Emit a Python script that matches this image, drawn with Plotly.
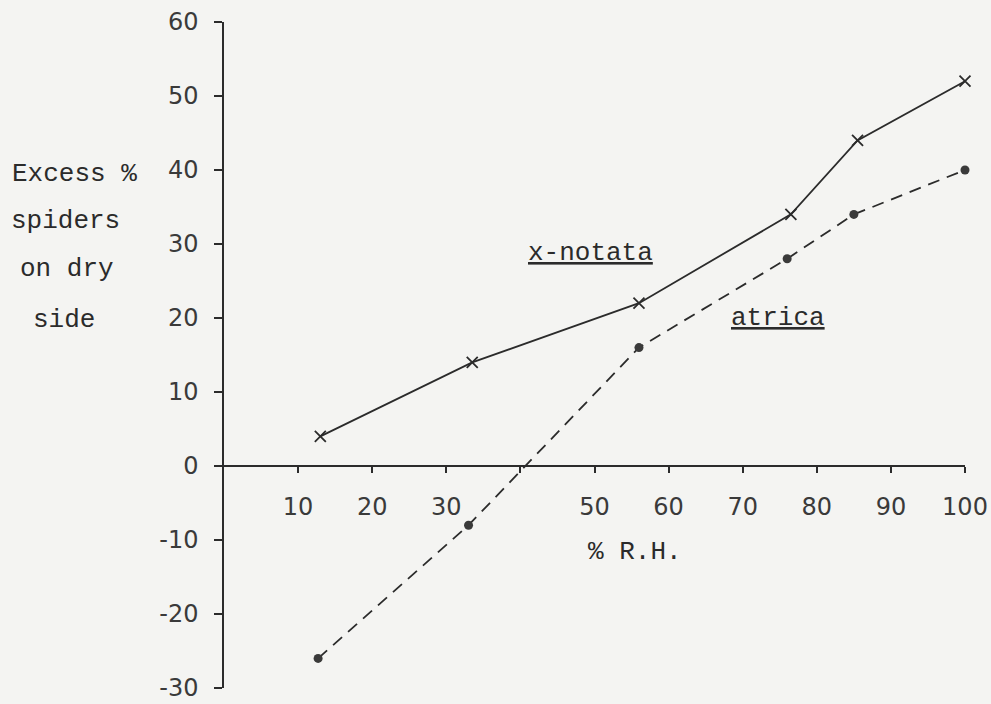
import plotly.graph_objects as go

# ---- data ----
rh_xnotata = [13, 33.5, 56, 76.5, 85.5, 100]
excess_xnotata = [4, 14, 22, 34, 44, 52]

rh_atrica = [12.7, 33, 56, 76, 85, 100]
excess_atrica = [-26, -8, 16, 28, 34, 40]

x_tickvals = [10, 20, 30, 40, 50, 60, 70, 80, 90, 100]
x_ticktext = ["10", "20", "30", "", "50", "60", "70", "80", "90", "100"]
y_tickvals = [-30, -20, -10, 0, 10, 20, 30, 40, 50, 60]
y_ticktext = ["-30", "-20", "-10", "0", "10", "20", "30", "40", "50", "60"]

ylabel_lines = ["Excess %", "spiders", "on dry", "side"]

W, H = 991, 704
L, R, T, B = 224, 26, 22, 16
pw, ph = W - L - R, H - T - B

def px(xp):
    return (xp - L) / pw

def py(yp):
    return (H - B - yp) / ph

ink = "#2b2b2b"
mono = "Liberation Mono, Courier New, monospace"
sans = "DejaVu Sans, sans-serif"

fig = go.Figure()
fig.add_trace(go.Scatter(
    x=rh_xnotata, y=excess_xnotata, mode="lines+markers", name="x-notata",
    line=dict(color=ink, width=1.8),
    marker=dict(symbol="x-thin", size=11, line=dict(color=ink, width=1.8)),
    cliponaxis=False, showlegend=False))
fig.add_trace(go.Scatter(
    x=rh_atrica, y=excess_atrica, mode="lines+markers", name="atrica",
    line=dict(color=ink, width=1.8, dash="12px,8px"),
    marker=dict(symbol="circle", size=9, color="#3a3a3a"),
    cliponaxis=False, showlegend=False))

annotations = []
ylab_pos = [(74, 174), (65, 221), (67, 269), (64, 320)]
for txt, (xx, yy) in zip(ylabel_lines, ylab_pos):
    annotations.append(dict(text=txt, xref="paper", yref="paper", x=px(xx), y=py(yy),
                            xanchor="center", yanchor="middle", showarrow=False,
                            font=dict(family=mono, size=26, color=ink)))
annotations.append(dict(text="<u>x-notata</u>", xref="paper", yref="paper", x=px(590), y=py(253),
                        xanchor="center", yanchor="middle", showarrow=False,
                        font=dict(family=mono, size=26, color=ink)))
annotations.append(dict(text="<u>atrica</u>", xref="paper", yref="paper", x=px(778), y=py(318),
                        xanchor="center", yanchor="middle", showarrow=False,
                        font=dict(family=mono, size=26, color=ink)))
annotations.append(dict(text="% R.H.", xref="paper", yref="paper", x=px(635), y=py(552),
                        xanchor="center", yanchor="middle", showarrow=False,
                        font=dict(family=mono, size=26, color=ink)))

fig.update_layout(
    width=W, height=H,
    margin=dict(l=L, r=R, t=T, b=B, pad=0),
    paper_bgcolor="#f4f4f2", plot_bgcolor="#f4f4f2",
    annotations=annotations,
    xaxis=dict(range=[0, 100], anchor="free", position=1/3, side="bottom",
               showline=True, linecolor=ink, linewidth=1.5,
               ticks="outside", ticklen=6, tickwidth=1.5, tickcolor=ink,
               tickvals=x_tickvals, ticktext=x_ticktext,
               tickfont=dict(family=sans, size=24, color="#3a3a3a"),
               ticklabelstandoff=13, automargin=False,
               showgrid=False, zeroline=False),
    yaxis=dict(range=[-30, 60], showline=True, linecolor=ink, linewidth=1.5,
               ticks="outside", ticklen=8, tickwidth=1.5, tickcolor=ink,
               tickvals=y_tickvals, ticktext=y_ticktext,
               tickfont=dict(family=sans, size=24, color="#3a3a3a"),
               ticklabelstandoff=11, automargin=False,
               showgrid=False, zeroline=False),
)

fig.write_html("out.html", config={"displayModeBar": False},
               post_script="document.body.style.margin='0';document.body.style.overflow='hidden';")
